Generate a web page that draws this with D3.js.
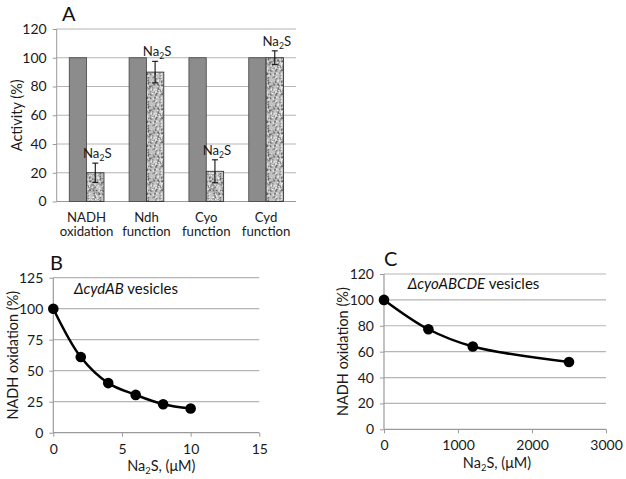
<!DOCTYPE html>
<html><head><meta charset="utf-8">
<script src="https://cdn.jsdelivr.net/npm/d3@7"></script>
<style>
body{margin:0;background:#fff;}
svg{display:block;font-family:Lato,"Open Sans",sans-serif;}
</style></head>
<body>
<svg id="c" width="626" height="479"></svg>
<script>
// Panel A data
const catsA = [["NADH","oxidation"],["Ndh","function"],["Cyo","function"],["Cyd","function"]];
const controlA = [100,100,100,100];
const na2sA = [20,90,21,100];
const errA = [6.7,7.5,8,4.8];
const yTicksA = [0,20,40,60,80,100,120];
// Panel B data
const xB = [0,2,4,6,8,10];
const yB = [100,61,40,30.5,23,19.5];
const xTicksB = [0,5,10,15];
const yTicksB = [0,25,50,75,100,125];
// Panel C data
const xC = [0,600,1200,2500];
const yC = [100,77.3,64,52];
const xTicksC = [0,1000,2000,3000];
const yTicksC = [0,20,40,60,80,100,120];

const svg = d3.select("#c");
const gridCol = "#b5b5b5", axisCol = "#9a9a9a", txt = "#1a1a1a";
const fsTick = 14, fsTitle = 14.5, fsCat = 13.2, fsNa = 13.2;

// speckle pattern (texture only)
const defs = svg.append("defs");
const pat = defs.append("pattern").attr("id","speck").attr("patternUnits","userSpaceOnUse")
  .attr("width",24).attr("height",24);
pat.append("rect").attr("width",24).attr("height",24).attr("fill","#c2c2c2");
let s = 7;
function rnd(){ s = (s*16807) % 2147483647; return s/2147483647; }
for(let i=0;i<170;i++){
  const v = rnd();
  pat.append("rect").attr("x",(rnd()*24).toFixed(1)).attr("y",(rnd()*24).toFixed(1))
    .attr("width",1.5).attr("height",1.5)
    .attr("fill", v<0.45 ? "#8a8a8a" : (v<0.7 ? "#666" : "#ececec"));
}

function subText(g, x, y, fs, after, anchor){
  const t = g.append("text").attr("x",x).attr("y",y).attr("text-anchor",anchor||"middle")
    .attr("font-size",fs).attr("fill",txt);
  t.append("tspan").text("Na");
  t.append("tspan").attr("font-size",fs*0.65).attr("dy",3).text("2");
  t.append("tspan").attr("dy",-3).text(after);
  return t;
}

// ---------- Panel A ----------
(function(){
  const L=56.7, R=296, T=29, B=201.5;
  const y = d3.scaleLinear().domain([0,120]).range([B,T]);
  const x = d3.scaleBand().domain(d3.range(catsA.length)).range([L,R]).paddingInner(0.42).paddingOuter(0.21);
  const xs = d3.scaleBand().domain([0,1]).range([0,x.bandwidth()]);
  const g = svg.append("g");
  g.selectAll(".grid").data(yTicksA.filter(d=>d>0)).join("line")
    .attr("x1",L).attr("x2",R).attr("y1",d=>y(d)).attr("y2",d=>y(d))
    .attr("stroke",gridCol).attr("stroke-width",1.2);
  const ya = g.append("g").attr("transform",`translate(${L},0)`)
    .call(d3.axisLeft(y).tickValues(yTicksA).tickSize(4).tickPadding(6));
  ya.select(".domain").attr("stroke",axisCol).attr("d",`M0,${B}V${T}`);
  ya.selectAll(".tick line").attr("stroke",axisCol);
  ya.selectAll("text").attr("font-size",fsTick).attr("fill",txt).attr("font-family","Lato,sans-serif");
  g.append("line").attr("x1",L).attr("x2",R).attr("y1",B).attr("y2",B).attr("stroke",axisCol).attr("stroke-width",1.2);
  // bars
  g.selectAll(".ctl").data(controlA).join("rect")
    .attr("x",(d,i)=>x(i)+xs(0)).attr("width",xs.bandwidth())
    .attr("y",d=>y(d)).attr("height",d=>B-y(d))
    .attr("fill","#8c8c8c").attr("stroke","#444").attr("stroke-width",0.8);
  g.selectAll(".trt").data(na2sA).join("rect")
    .attr("x",(d,i)=>x(i)+xs(1)).attr("width",xs.bandwidth())
    .attr("y",d=>y(d)).attr("height",d=>B-y(d))
    .attr("fill","url(#speck)").attr("stroke","#333").attr("stroke-width",0.9);
  // error bars
  na2sA.forEach((v,i)=>{
    const cx = x(i)+xs(1)+xs.bandwidth()/2;
    const e = errA[i];
    g.append("line").attr("x1",cx).attr("x2",cx).attr("y1",y(v+e)).attr("y2",y(v-e)).attr("stroke","#111").attr("stroke-width",1.1);
    [v+e,v-e].forEach(t=>g.append("line").attr("x1",cx-3).attr("x2",cx+3).attr("y1",y(t)).attr("y2",y(t)).attr("stroke","#111").attr("stroke-width",1.1));
    subText(g, cx+2, y(v+e)-5, fsNa, "S");
  });
  // category labels
  catsA.forEach((c,i)=>{
    const cx = x(i)+x.bandwidth()/2;
    g.append("text").attr("x",cx).attr("y",B+20).attr("text-anchor","middle").attr("font-size",fsCat).attr("fill",txt).text(c[0]);
    g.append("text").attr("x",cx).attr("y",B+34.5).attr("text-anchor","middle").attr("font-size",fsCat).attr("fill",txt).text(c[1]);
  });
  g.append("text").attr("transform",`translate(22,${(T+B)/2}) rotate(-90)`).attr("text-anchor","middle")
    .attr("font-size",fsTitle).attr("fill",txt).text("Activity (%)");
  g.append("text").attr("x",62).attr("y",21).attr("font-size",20).attr("fill","#111").text("A");
})();

// ---------- Line panels ----------
function linePanel(o){
  const y = d3.scaleLinear().domain(o.yDom).range([o.B,o.T]);
  const x = d3.scaleLinear().domain(o.xDom).range([o.L,o.R]);
  const g = svg.append("g");
  g.selectAll(".grid").data(o.yTicks.filter(d=>d>0)).join("line")
    .attr("x1",o.L).attr("x2",o.R).attr("y1",d=>y(d)).attr("y2",d=>y(d))
    .attr("stroke",gridCol).attr("stroke-width",1.2);
  const ya = g.append("g").attr("transform",`translate(${o.L},0)`)
    .call(d3.axisLeft(y).tickValues(o.yTicks).tickSize(4).tickPadding(6));
  const xa = g.append("g").attr("transform",`translate(0,${o.B})`)
    .call(d3.axisBottom(x).tickValues(o.xTicks).tickSize(4).tickPadding(7).tickFormat(d3.format("d")));
  [ya,xa].forEach(a=>{
    a.select(".domain").attr("stroke",axisCol).attr("stroke-width",1.2);
    a.selectAll(".tick line").attr("stroke",axisCol);
    a.selectAll("text").attr("font-size",fsTick).attr("fill",txt).attr("font-family","Lato,sans-serif");
  });
  ya.select(".domain").attr("d",`M0,${o.B}V${o.T}`);
  xa.select(".domain").attr("d",`M${o.L},0H${o.R}`);
  const pts = o.xs.map((d,i)=>[d,o.ys[i]]);
  g.append("path").datum(pts)
    .attr("d",d3.line().x(d=>x(d[0])).y(d=>y(d[1])).curve(d3.curveCatmullRom.alpha(0.5)))
    .attr("fill","none").attr("stroke","#000").attr("stroke-width",2.5);
  g.selectAll(".pt").data(pts).join("circle")
    .attr("cx",d=>x(d[0])).attr("cy",d=>y(d[1])).attr("r",5.3).attr("fill","#000");
  // titles
  g.append("text").attr("transform",`translate(${o.ytx},${(o.T+o.B)/2}) rotate(-90)`).attr("text-anchor","middle")
    .attr("font-size",fsTitle).attr("fill",txt).text("NADH oxidation (%)");
  subText(g, (o.L+o.R)/2+o.xtdx, o.xty, fsTitle, "S, (\u03BCM)");
  const an = g.append("text").attr("x",o.anx).attr("y",o.any).attr("font-size",15).attr("fill","#111");
  an.append("tspan").attr("font-style","italic").text(o.anIt);
  an.append("tspan").text(" vesicles");
  g.append("text").attr("x",o.lx).attr("y",o.ly).attr("font-size",20).attr("fill","#111").text(o.letter);
}

linePanel({L:53.3,R:259.3,T:277.7,B:432.7,xDom:[0,15],yDom:[0,125],
  xTicks:xTicksB,yTicks:yTicksB,xs:xB,ys:yB,ytx:18,xtdx:5,xty:471,
  anx:74,any:294,anIt:"\u0394cydAB",lx:50,ly:270,letter:"B"});
linePanel({L:384,R:606,T:274,B:429.3,xDom:[0,3000],yDom:[0,120],
  xTicks:xTicksC,yTicks:yTicksC,xs:xC,ys:yC,ytx:348,xtdx:2,xty:468,
  anx:407.7,any:289,anIt:"\u0394cyoABCDE",lx:384,ly:266,letter:"C"});
</script>
</body></html>
